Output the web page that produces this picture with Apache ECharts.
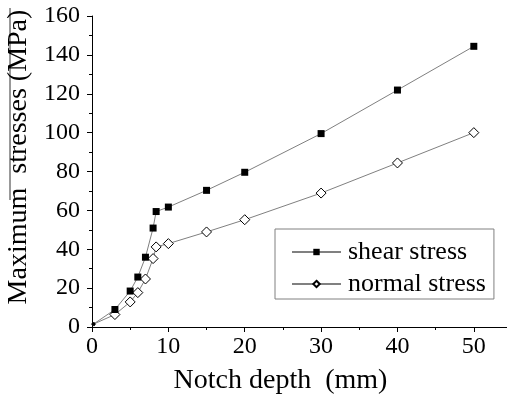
<!DOCTYPE html>
<html>
<head>
<meta charset="utf-8">
<script src="https://cdn.jsdelivr.net/npm/echarts@6/dist/echarts.min.js"></script>
<style>html,body{margin:0;padding:0;background:#fff;overflow:hidden;width:507px;height:403px}#c{width:512px;height:403px}</style>
</head>
<body>
<div id="c"></div>
<script>
const depth = [0.2, 3, 5, 6, 7, 8, 8.4, 10, 15, 20, 30, 40, 50];
const shearStress = [1.5, 9, 18.5, 25.7, 35.9, 50.9, 59.4, 61.7, 70.3, 79.6, 99.5, 121.9, 144.4];
const normalStress = [1.5, 6.4, 12.9, 17.7, 24.7, 35.2, 41.2, 42.9, 48.9, 55.2, 68.9, 84.4, 100];
const seriesNames = ['shear stress', 'normal stress'];
const xTitle = 'Notch depth  (mm)';
const yTitle = 'Maximum  stresses (MPa)';

const FONT = 'Liberation Serif';
const chart = echarts.init(document.getElementById('c'), null, {renderer: 'canvas'});
const pair = (ys) => depth.map((x, i) => [x, ys[i]]);
const symSize = (big, small) => (v, p) => (p.dataIndex === 0 ? small : big);

chart.setOption({
  animation: false,
  backgroundColor: '#fff',
  textStyle: {fontFamily: FONT, color: '#000'},
  grid: {left: 92, right: 0, top: 16, bottom: 76, containLabel: false, outerBoundsMode: 'none'},
  xAxis: {
    type: 'value', min: 0, max: 55, interval: 10,
    name: xTitle, nameLocation: 'middle', nameGap: 40,
    nameTextStyle: {fontFamily: FONT, fontSize: 28, color: '#000', padding: [0, 43, 0, 0]},
    axisLine: {lineStyle: {color: '#000', width: 1}},
    axisTick: {show: true, inside: false, length: 5, lineStyle: {color: '#000'}},
    minorTick: {show: true, splitNumber: 2, length: 3, lineStyle: {color: '#000'}},
    splitLine: {show: false},
    axisLabel: {fontFamily: FONT, fontSize: 24, color: '#000', margin: 8,
      formatter: v => (v % 10 === 0 && v <= 50 ? String(v) : '')}
  },
  yAxis: {
    type: 'value', min: 0, max: 160, interval: 20,
    name: yTitle, nameLocation: 'middle', nameGap: 55,
    nameTextStyle: {fontFamily: FONT, fontSize: 28, color: '#000', padding: [0, 0, 0, 29]},
    axisLine: {show: true, lineStyle: {color: '#000', width: 1}},
    axisTick: {show: true, inside: false, length: 5, lineStyle: {color: '#000'}},
    minorTick: {show: true, splitNumber: 2, length: 3, lineStyle: {color: '#000'}},
    splitLine: {show: false},
    axisLabel: {fontFamily: FONT, fontSize: 24, color: '#000', margin: 12}
  },
  legend: {
    left: 275, top: 229, orient: 'vertical',
    itemWidth: 49, itemHeight: 8, itemGap: 6,
    padding: [10, 8, 2, 16],
    borderColor: '#808080', borderWidth: 1, backgroundColor: '#fff',
    textStyle: {fontFamily: FONT, fontSize: 26, lineHeight: 25, color: '#000', padding: [0, 0, 0, 2]},
    data: seriesNames
  },
  graphic: [{
    type: 'line', shape: {x1: 10, y1: 8, x2: 10, y2: 200},
    style: {stroke: '#333', lineWidth: 1}
  }],
  series: [
    {
      name: seriesNames[0], type: 'line', data: pair(shearStress),
      symbol: 'rect', symbolSize: symSize(7, 3), showAllSymbol: true,
      lineStyle: {color: '#808080', width: 1},
      itemStyle: {color: '#000', borderColor: '#000', borderWidth: 0},
      z: 3
    },
    {
      name: seriesNames[1], type: 'line', data: pair(normalStress),
      symbol: 'diamond', symbolSize: symSize(10, 4), showAllSymbol: true,
      lineStyle: {color: '#808080', width: 1},
      itemStyle: {color: '#fff', borderColor: '#000', borderWidth: 1},
      z: 2
    }
  ]
});
</script>
</body>
</html>
